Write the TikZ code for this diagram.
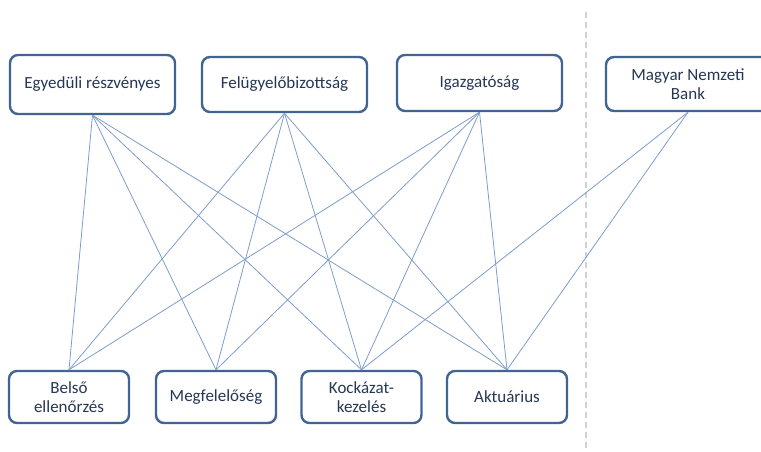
\documentclass[tikz,border=0pt]{standalone}
\usepackage{fontspec}
\setmainfont{Carlito}
\begin{document}
\begin{tikzpicture}[x=1pt,y=-1pt,
  box/.style={draw=boxblue, line width=2.4pt, rounded corners=8pt, fill=white,
    text=textblue, align=center, font=\fontsize{17}{19.5}\selectfont, inner sep=0pt},
  topbox/.style={box, minimum width=165pt, minimum height=56pt},
  botbox/.style={box, minimum width=120pt, minimum height=52pt},
  link/.style={draw=linkblue, line width=0.8pt}]
\definecolor{boxblue}{RGB}{65,101,146}
\definecolor{textblue}{RGB}{38,55,84}
\definecolor{linkblue}{RGB}{125,157,205}
\definecolor{dashgray}{RGB}{205,210,218}
\useasboundingbox (0,0) rectangle (761,452);
\coordinate (d1) at (586,12);
\coordinate (d2) at (586,452);
\draw[dashgray, line width=1.2pt, dash pattern=on 6pt off 4pt] (d1) -- (d2);
\node[topbox, minimum height=59pt] (E) at (92.5,84.5) {Egyedüli részvényes};
\node[topbox, minimum height=55pt] (F) at (284.5,84.5) {Felügyelőbizottság};
\node[topbox] (I) at (479.5,83) {Igazgatóság};
\node[topbox, minimum width=164pt, minimum height=54pt] (M) at (688,84) {Magyar Nemzeti\\Bank};
\node[botbox] (B) at (69,397) {Belső\\ellenőrzés};
\node[botbox] (G) at (216,397) {Megfelelőség};
\node[botbox] (K) at (361.5,397) {Kockázat-\\kezelés};
\node[botbox] (A) at (507,397) {Aktuárius};
\foreach \t in {E,F,I}{
  \foreach \b in {B,G,K,A}{
    \draw[link] (\t.south) -- (\b.north);
  }
}
\draw[link] (M.south) -- (K.north);
\draw[link] (M.south) -- (A.north);
\end{tikzpicture}
\end{document}
